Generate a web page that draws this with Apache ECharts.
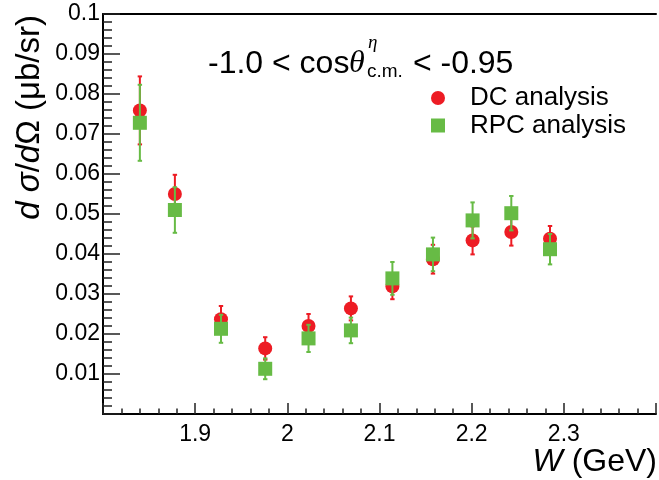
<!DOCTYPE html>
<html><head><meta charset="utf-8">
<script src="https://cdn.jsdelivr.net/npm/echarts@6/dist/echarts.min.js"></script>
<style>html,body{margin:0;padding:0;background:#fff}#c{width:659px;height:480px}</style>
</head><body><div id="c"></div>
<script>
// W bins (GeV)
const wValues = [1.840, 1.878, 1.928, 1.976, 2.023, 2.069, 2.114, 2.158, 2.201, 2.243, 2.285];
// DC analysis
const dcValues = [0.0759, 0.0550, 0.0237, 0.0164, 0.0220, 0.0264, 0.0319, 0.0387, 0.0434, 0.0455, 0.0438];
const dcErrors = [0.0085, 0.0048, 0.0033, 0.0028, 0.0030, 0.0030, 0.0032, 0.0036, 0.0035, 0.0034, 0.0032];
// RPC analysis
const rpcValues = [0.0728, 0.0510, 0.0213, 0.0113, 0.0189, 0.0209, 0.0339, 0.0399, 0.0484, 0.0502, 0.0412];
const rpcErrors = [0.0095, 0.0057, 0.0035, 0.0026, 0.0034, 0.0032, 0.0041, 0.0042, 0.0045, 0.0043, 0.0038];
const seriesNames = ['DC analysis', 'RPC analysis'];
const xRange = [1.8, 2.4];
const yRange = [0, 0.1];

const RED = '#ed1c24', GREEN = '#67bb45';
const FONT = 'Liberation Sans, Arial, Helvetica, sans-serif';
const SERIF = 'Liberation Serif, DejaVu Serif, serif';

function errRender(color) {
  return function (params, api) {
    const x = api.value(0), y = api.value(1), e = api.value(2);
    const t = api.coord([x, y + e]), b = api.coord([x, y - e]);
    const c = 2.2, st = { stroke: color, lineWidth: 2 };
    return { type: 'group', children: [
      { type: 'line', shape: { x1: t[0], y1: t[1], x2: b[0], y2: b[1] }, style: st },
      { type: 'line', shape: { x1: t[0] - c, y1: t[1], x2: t[0] + c, y2: t[1] }, style: st },
      { type: 'line', shape: { x1: b[0] - c, y1: b[1], x2: b[0] + c, y2: b[1] }, style: st }
    ]};
  };
}

const chart = echarts.init(document.getElementById('c'));
const tickStyle = { color: '#222', width: 1.5 };
chart.setOption({
  animation: false,
  backgroundColor: '#fff',
  grid: { left: 103, right: 0, top: 14, bottom: 66, containLabel: false },
  xAxis: [{
    type: 'value', min: xRange[0], max: xRange[1], interval: 0.1,
    axisLine: { show: true, onZero: false, lineStyle: { color: '#000', width: 2 } },
    axisTick: { show: true, inside: true, length: 11, lineStyle: tickStyle },
    minorTick: { show: true, splitNumber: 5, length: 5.5, lineStyle: tickStyle },
    splitLine: { show: false },
    axisLabel: { fontSize: 23, fontFamily: FONT, color: '#000', margin: 9,
      formatter: v => (Math.abs(v - xRange[0]) < 1e-6 || Math.abs(v - xRange[1]) < 1e-6) ? '' : String(+v.toFixed(2)) }
  }, {
    type: 'value', position: 'top', min: xRange[0], max: xRange[1],
    axisLine: { show: true, onZero: false, lineStyle: { color: '#000', width: 2 } },
    axisTick: { show: false }, axisLabel: { show: false }, splitLine: { show: false }
  }],
  yAxis: {
    type: 'value', min: yRange[0], max: yRange[1], interval: 0.01,
    axisLine: { show: true, onZero: false, lineStyle: { color: '#000', width: 2 } },
    axisTick: { show: true, inside: true, length: 17, lineStyle: tickStyle },
    minorTick: { show: true, splitNumber: 5, length: 9, lineStyle: tickStyle },
    splitLine: { show: false },
    axisLabel: { fontSize: 23, fontFamily: FONT, color: '#000', margin: 3,
      formatter: v => Math.abs(v) < 1e-9 ? '' : String(+v.toFixed(3)) }
  },
  legend: {
    data: seriesNames, orient: 'vertical', left: 431, top: 85, padding: 0,
    itemWidth: 14, itemHeight: 14, itemGap: 1.5,
    textStyle: { fontSize: 26, fontFamily: FONT, color: '#000', lineHeight: 26, padding: [0, 0, 0, 20] }
  },
  series: [
    { type: 'custom', name: 'dcErr', z: 2, renderItem: errRender(RED),
      data: wValues.map((w, i) => [w, dcValues[i], dcErrors[i]]), silent: true },
    { type: 'scatter', name: seriesNames[0], z: 3, symbol: 'circle', symbolSize: 14,
      itemStyle: { color: RED, opacity: 1 }, data: wValues.map((w, i) => [w, dcValues[i]]) },
    { type: 'custom', name: 'rpcErr', z: 4, renderItem: errRender(GREEN),
      data: wValues.map((w, i) => [w, rpcValues[i], rpcErrors[i]]), silent: true },
    { type: 'scatter', name: seriesNames[1], z: 5, symbol: 'rect', symbolSize: 14,
      itemStyle: { color: GREEN, opacity: 1 }, data: wValues.map((w, i) => [w, rpcValues[i]]) }
  ],
  graphic: [
    // y-axis title
    { type: 'text', x: 30, y: 15, rotation: Math.PI / 2,
      style: { text: '{i|d} {i|σ}/{i|d}Ω (μb/sr)', align: 'right', verticalAlign: 'middle',
        font: '33px ' + FONT, fill: '#000',
        rich: { i: { fontStyle: 'italic', fontSize: 33, fontFamily: FONT } } } },
    // x-axis title
    { type: 'text', x: 657, y: 462,
      style: { text: '{i|W} (GeV)', align: 'right', verticalAlign: 'middle',
        font: '32px ' + FONT, fill: '#000',
        rich: { i: { fontStyle: 'italic', fontSize: 32, fontFamily: FONT } } } },
    // cut label
    { type: 'text', x: 208, y: 64, style: { text: '-1.0 < cos', align: 'left', verticalAlign: 'middle', font: '32px ' + FONT, fill: '#000' } },
    { type: 'text', x: 349, y: 64, style: { text: 'θ', align: 'left', verticalAlign: 'middle', font: 'italic 32px ' + SERIF, fill: '#000' } },
    { type: 'text', x: 368, y: 43, style: { text: 'η', align: 'left', verticalAlign: 'middle', font: 'italic 19px ' + SERIF, fill: '#000' } },
    { type: 'text', x: 367, y: 72, style: { text: 'c.m.', align: 'left', verticalAlign: 'middle', font: '19px ' + FONT, fill: '#000' } },
    { type: 'text', x: 404, y: 64, style: { text: ' < -0.95', align: 'left', verticalAlign: 'middle', font: '32px ' + FONT, fill: '#000' } }
  ]
});
</script></body></html>
